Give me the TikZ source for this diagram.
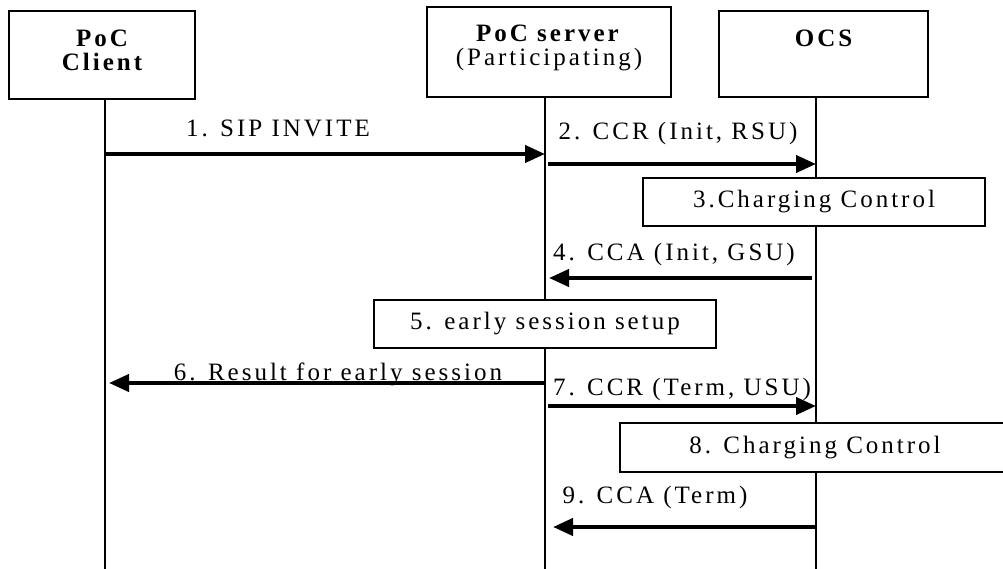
\documentclass[tikz,border=0pt]{standalone}
\usepackage{fontspec}
\setmainfont{Liberation Serif}[LetterSpace=12]
\usetikzlibrary{arrows.meta}

\tikzset{
    actor/.style={draw, line width=2pt, fill=white, align=center, inner sep=0pt},
    stepbox/.style={draw, line width=2pt, fill=white, inner sep=0pt},
    msg/.style={line width=4pt, -{Triangle[length=20pt,width=17pt]}},
    lifeline/.style={line width=2pt},
    msglabel/.style={anchor=base, inner sep=0pt},
}

\begin{document}
\begin{tikzpicture}[x=1pt, y=-1pt, font=\fontsize{25}{24}\selectfont]
    \useasboundingbox (0,0) rectangle (1003,569);
    \coordinate (clientbot) at (105,569);
    \coordinate (serverbot) at (545,569);
    \coordinate (ocsbot) at (816,569);

    \node[actor, minimum width=186pt, minimum height=88pt, text depth=10pt, font=\fontsize{25}{24}\selectfont\bfseries] (client) at (102,55) {PoC\\Client};
    \node[actor, minimum width=244pt, minimum height=90pt, text depth=13pt] (server) at (549,52) {\textbf{PoC server}\\(Participating)};
    \node[actor, minimum width=209pt, minimum height=86pt, text depth=8pt, font=\fontsize{25}{24}\selectfont\bfseries] (ocs) at (823.5,54) {OCS\\\mbox{}};

    \draw[lifeline] (clientbot |- client.south) -- (clientbot);
    \draw[lifeline] (serverbot |- server.south) -- (serverbot);
    \draw[lifeline] (ocsbot |- ocs.south) -- (ocsbot);

    \node[stepbox, minimum width=342pt, minimum height=48pt] (charge1) at (814,202) {3.Charging Control};
    \node[stepbox, minimum width=342pt, minimum height=48pt] (early) at (545,324) {5. early session setup};
    \node[stepbox, minimum width=390pt, minimum height=49pt] (charge2) at (815,447.5) {8. Charging Control};

    \draw[msg] (clientbot |- 0,154) -- (serverbot |- 0,154);
    \draw[msg, shorten <=3pt] (serverbot |- 0,164) -- (ocsbot |- 0,164);
    \draw[msg, shorten <=4pt, shorten >=4pt] (ocsbot |- 0,278) -- (serverbot |- 0,278);
    \draw[msg, shorten >=4pt] (serverbot |- 0,383) -- (clientbot |- 0,383);
    \draw[msg, shorten <=3pt] (serverbot |- 0,406) -- (ocsbot |- 0,406);
    \draw[msg, shorten >=8pt] (ocsbot |- 0,527) -- (serverbot |- 0,527);

    \node[msglabel] (invite) at (278,137) {1. SIP INVITE};
    \node[msglabel] (ccrinit) at (678,140) {2. CCR (Init, RSU)};
    \node[msglabel] (ccainit) at (674,260) {4. CCA (Init, GSU)};
    \node[msglabel] (result) at (338,380) {6. Result for early session};
    \node[msglabel] (ccrterm) at (682,395) {7. CCR (Term, USU)};
    \node[msglabel] (ccaterm) at (655,503) {9. CCA (Term)};
\end{tikzpicture}
\end{document}
